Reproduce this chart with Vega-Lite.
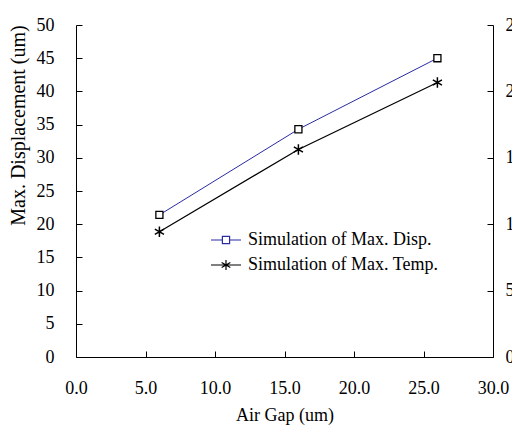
{
  "$schema": "https://vega.github.io/schema/vega-lite/v6.json",
  "width": 417,
  "height": 332,
  "autosize": "none",
  "padding": {"left": 76, "top": 25, "right": 19, "bottom": 69},
  "background": "white",
  "config": {
    "view": {"stroke": null},
    "font": "Liberation Serif",
    "axis": {
      "grid": false,
      "domainColor": "#000000",
      "tickColor": "#000000",
      "labelColor": "#000000",
      "titleColor": "#000000",
      "labelFont": "Liberation Serif",
      "titleFont": "Liberation Serif",
      "labelFontSize": 18,
      "titleFontSize": 18,
      "titleFontWeight": "normal",
      "tickSize": -6,
      "domainWidth": 1,
      "tickWidth": 1
    },
    "legend": {
      "labelFont": "Liberation Serif",
      "labelFontSize": 18,
      "labelColor": "#000000",
      "labelLimit": 0
    }
  },
  "data": {
    "values": [
      {"gap": 6, "value": 21.4, "series": "Simulation of Max. Disp."},
      {"gap": 16, "value": 34.3, "series": "Simulation of Max. Disp."},
      {"gap": 26, "value": 45.0, "series": "Simulation of Max. Disp."},
      {"gap": 6, "value": 94.3, "series": "Simulation of Max. Temp."},
      {"gap": 16, "value": 156.3, "series": "Simulation of Max. Temp."},
      {"gap": 26, "value": 206.7, "series": "Simulation of Max. Temp."}
    ]
  },
  "layer": [
    {
      "transform": [{"filter": "datum.series === 'Simulation of Max. Disp.'"}],
      "encoding": {
        "x": {
          "field": "gap", "type": "quantitative",
          "scale": {"domain": [0, 30], "nice": false, "zero": false},
          "axis": {"values": [0, 5, 10, 15, 20, 25, 30], "format": ".1f", "title": "Air Gap (um)", "labelPadding": 28, "titlePadding": 9, "labelFlush": false}
        },
        "y": {
          "field": "value", "type": "quantitative",
          "scale": {"domain": [0, 50], "nice": false},
          "axis": {"values": [0, 5, 10, 15, 20, 25, 30, 35, 40, 45, 50], "title": "Max. Displacement (um)", "titleFontSize": 20, "titleX": -58, "titleY": 100, "titleBaseline": "middle", "titleAlign": "center", "titleAngle": -90, "labelPadding": 28, "labelFlush": false}
        }
      },
      "layer": [
        {
          "mark": {"type": "line", "strokeWidth": 1},
          "encoding": {
            "color": {
              "field": "series", "type": "nominal",
              "scale": {"domain": ["Simulation of Max. Disp.", "Simulation of Max. Temp."], "range": ["#2a2aa5", "#000000"]},
              "legend": {
                "orient": "none",
                "legendX": 134,
                "legendY": 199,
                "title": null,
                "padding": 0,
                "rowPadding": 0,
                "symbolSize": 900,
                "labelOffset": 6,
                "encode": {
                  "symbols": {
                    "update": {
                      "shape": {"signal": "datum.value === 'Simulation of Max. Disp.' ? 'M-1,0H-0.24M0.24,0H1M-0.24,-0.24H0.24V0.24H-0.24Z' : 'M-1,0H1M0,-0.33V0.33M-0.29,-0.17L0.29,0.17M-0.29,0.17L0.29,-0.17'"},
                      "stroke": {"signal": "datum.value === 'Simulation of Max. Disp.' ? '#2a2aa5' : '#000000'"},
                      "fill": {"value": "transparent"},
                      "strokeWidth": {"value": 1.2},
                      "opacity": {"value": 1}
                    }
                  }
                }
              }
            }
          }
        },
        {
          "mark": {"type": "point", "shape": "square", "size": 50, "filled": true, "fill": "white", "stroke": "#000000", "strokeWidth": 1.3, "opacity": 1}
        }
      ]
    },
    {
      "transform": [{"filter": "datum.series === 'Simulation of Max. Temp.'"}],
      "encoding": {
        "x": {"field": "gap", "type": "quantitative", "scale": {"domain": [0, 30], "nice": false, "zero": false}},
        "y": {
          "field": "value", "type": "quantitative",
          "scale": {"domain": [0, 250], "nice": false},
          "axis": {"orient": "right", "values": [0, 50, 100, 150, 200, 250], "title": null, "labelPadding": 18, "labelFlush": false}
        }
      },
      "layer": [
        {
          "mark": {"type": "line", "strokeWidth": 1.2},
          "encoding": {
            "color": {"field": "series", "type": "nominal"}
          }
        },
        {
          "mark": {"type": "point", "shape": "M0,-1V1M-0.87,-0.5L0.87,0.5M-0.87,0.5L0.87,-0.5", "size": 110, "filled": false, "stroke": "#000000", "strokeWidth": 1.5, "opacity": 1}
        }
      ]
    }
  ],
  "resolve": {"scale": {"y": "independent"}}
}
